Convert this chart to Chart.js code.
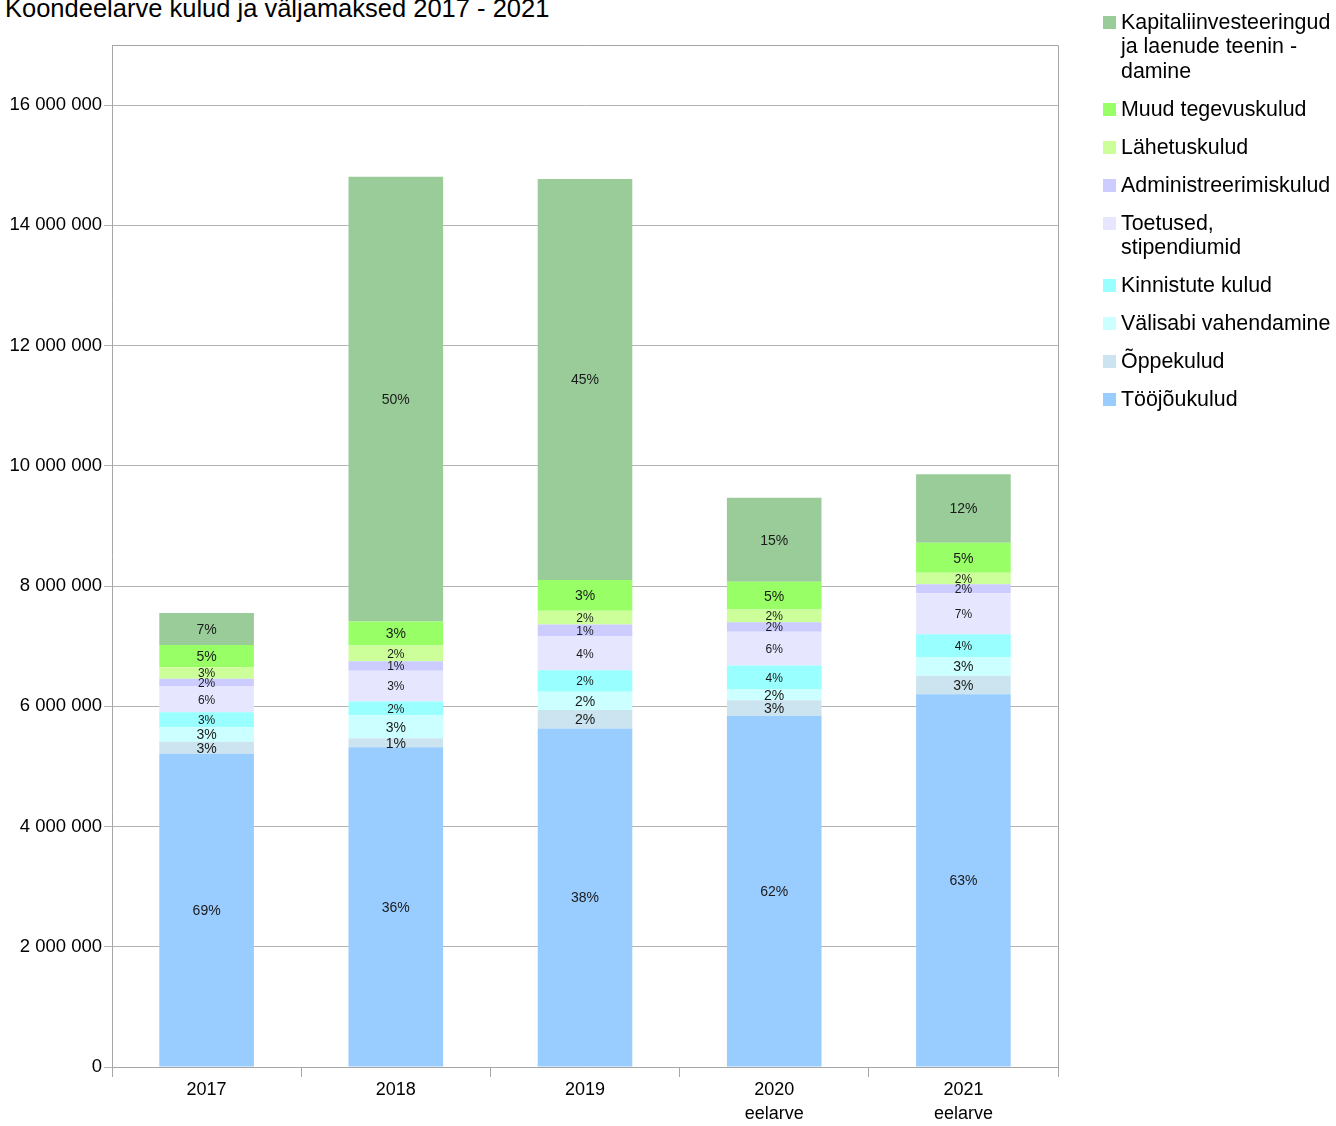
<!DOCTYPE html>
<html lang="et">
<head>
<meta charset="utf-8">
<title>Koondeelarve kulud ja väljamaksed 2017 - 2021</title>
<script src="https://cdn.jsdelivr.net/npm/chart.js@4.4.1/dist/chart.umd.min.js"></script>
<style>
  html, body { margin: 0; padding: 0; background: #fff; overflow: hidden; }
  body { width: 1336px; height: 1126px; position: relative; font-family: "Liberation Sans", Arial, sans-serif; }
  #title { position: absolute; left: 5px; top: -4px; font-size: 25.5px; line-height: 25px; color: #000; white-space: nowrap; }
  #chart { position: absolute; left: 0; top: 0; }
  #legend { position: absolute; left: 1103px; top: 9.75px; font-size: 21.4px; line-height: 24.5px; color: #000; }
  .legend-item { display: flex; align-items: flex-start; margin-bottom: 13.5px; }
  .legend-box { width: 13px; height: 13px; margin-top: 6px; margin-right: 5px; flex: none; }
  .legend-text { white-space: nowrap; }
</style>
</head>
<body>
<div id="title">Koondeelarve kulud ja väljamaksed 2017 - 2021</div>
<canvas id="chart" width="1336" height="1126"></canvas>
<div id="legend"></div>
<script>
const categories = [['2017'], ['2018'], ['2019'], ['2020', 'eelarve'], ['2021', 'eelarve']];
const yTicks = [0, 2000000, 4000000, 6000000, 8000000, 10000000, 12000000, 14000000, 16000000];
const yMax = 17000000;

// stacked from bottom to top
const seriesNames = [
  ['Tööjõukulud'],
  ['Õppekulud'],
  ['Välisabi vahendamine'],
  ['Kinnistute kulud'],
  ['Toetused,', 'stipendiumid'],
  ['Administreerimiskulud'],
  ['Lähetuskulud'],
  ['Muud tegevuskulud'],
  ['Kapitaliinvesteeringud', 'ja laenude teenin -', 'damine'],
];
const toojoukulud = [5210000, 5320000, 5630000, 5840000, 6200000];
const oppekulud = [200000, 150000, 310000, 260000, 310000];
const valisabi = [240000, 380000, 300000, 180000, 310000];
const kinnistuteKulud = [250000, 230000, 360000, 400000, 380000];
const toetused = [430000, 510000, 560000, 560000, 680000];
const administreerimine = [130000, 160000, 200000, 160000, 150000];
const lahetuskulud = [190000, 260000, 230000, 210000, 190000];
const muudKulud = [370000, 400000, 510000, 460000, 500000];
const kapitaliinvesteeringud = [530000, 7400000, 6670000, 1400000, 1140000];

const seriesValues = [toojoukulud, oppekulud, valisabi, kinnistuteKulud, toetused,
  administreerimine, lahetuskulud, muudKulud, kapitaliinvesteeringud];
const seriesColors = ['#99ccff', '#cce4ef', '#ccffff', '#99ffff', '#e6e6ff',
  '#ccccff', '#ccff99', '#99ff66', '#99cc99'];
const labelSizes = [14, 14, 14, 12, 12, 12, 12, 14, 14];

const FONT = '"Liberation Sans", Arial, sans-serif';
const AXIS_GRAY = '#a6a6a6';

function formatNumber(v) {
  return String(v).replace(/\B(?=(\d{3})+(?!\d))/g, ' ');
}

const totals = categories.map((_, i) => seriesValues.reduce((s, arr) => s + arr[i], 0));

const segmentLabels = {
  id: 'segmentLabels',
  afterDatasetsDraw(chart) {
    const ctx = chart.ctx;
    ctx.save();
    ctx.textAlign = 'center';
    ctx.textBaseline = 'middle';
    ctx.fillStyle = '#1a1a1a';
    chart.data.datasets.forEach((ds, di) => {
      const meta = chart.getDatasetMeta(di);
      ctx.font = `${labelSizes[di]}px ${FONT}`;
      meta.data.forEach((bar, j) => {
        const { x, y, base } = bar.getProps(['x', 'y', 'base'], true);
        const pct = Math.round(ds.data[j] / totals[j] * 100);
        ctx.fillText(`${pct}%`, x, (y + base) / 2 + 1);
      });
    });
    ctx.restore();
  },
};

const plotFrame = {
  id: 'plotFrame',
  afterDraw(chart) {
    const { ctx, chartArea } = chart;
    ctx.save();
    ctx.strokeStyle = AXIS_GRAY;
    ctx.lineWidth = 1;
    ctx.beginPath();
    ctx.moveTo(chartArea.left, chartArea.top + 0.5);
    ctx.lineTo(chartArea.right + 0.5, chartArea.top + 0.5);
    ctx.lineTo(chartArea.right + 0.5, chartArea.bottom);
    ctx.stroke();
    ctx.restore();
  },
};

new Chart(document.getElementById('chart'), {
  type: 'bar',
  data: {
    labels: categories,
    datasets: seriesValues.map((values, i) => ({
      label: seriesNames[i].join(' '),
      data: values,
      backgroundColor: seriesColors[i],
      borderWidth: 0,
      barPercentage: 0.5,
      categoryPercentage: 1,
    })),
  },
  options: {
    responsive: false,
    devicePixelRatio: 1,
    animation: false,
    layout: { padding: { top: 45, right: 278, left: 0, bottom: 0 } },
    plugins: {
      legend: { display: false },
      tooltip: { enabled: false },
    },
    scales: {
      x: {
        stacked: true,
        grid: { drawOnChartArea: false, tickLength: 10, color: AXIS_GRAY, offset: true },
        border: { color: AXIS_GRAY },
        ticks: { color: '#000', font: { family: FONT, size: 18, lineHeight: 1.33 }, padding: 1, maxRotation: 0 },
        afterFit(scale) { scale.height = 59; },
      },
      y: {
        stacked: true,
        min: 0,
        max: yMax,
        afterBuildTicks(scale) { scale.ticks = yTicks.map((v) => ({ value: v })); },
        grid: { color: '#b3b3b3', tickLength: 8 },
        border: { color: AXIS_GRAY },
        ticks: { color: '#000', font: { family: FONT, size: 18.5 }, padding: 2, callback: (v) => formatNumber(v) },
        afterFit(scale) { scale.width = 112; },
      },
    },
  },
  plugins: [segmentLabels, plotFrame],
});

const legendEl = document.getElementById('legend');
for (let i = seriesNames.length - 1; i >= 0; i--) {
  const item = document.createElement('div');
  item.className = 'legend-item';
  item.innerHTML = `<span class="legend-box" style="background:${seriesColors[i]}"></span>` +
    `<span class="legend-text">${seriesNames[i].join('<br>')}</span>`;
  legendEl.appendChild(item);
}
</script>
</body>
</html>
